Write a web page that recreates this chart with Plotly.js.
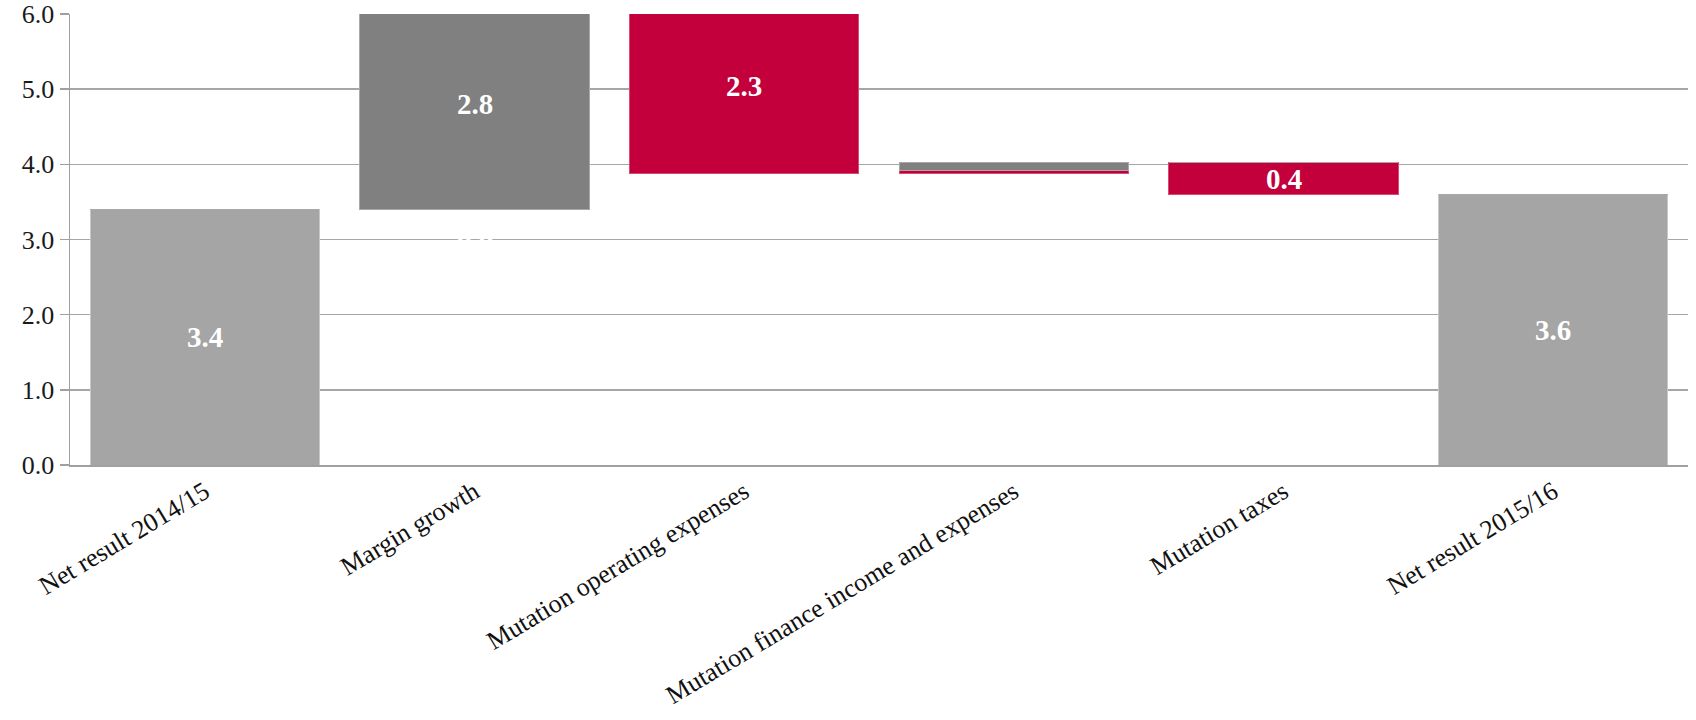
<!DOCTYPE html>
<html>
<head>
<meta charset="utf-8">
<script src="https://cdn.plot.ly/plotly-3.0.1.min.js"></script>
<style>html,body{margin:0;padding:0;background:#fff;}#chart{width:1696px;height:720px;}</style>
</head>
<body>
<div id="chart"></div>
<script>
// ---- data ----
var categories = ["Net result 2014/15", "Margin growth", "Mutation operating expenses",
                  "Mutation finance income and expenses", "Mutation taxes", "Net result 2015/16"];
var baseValues = [0, 3.4, 3.88, 3.88, 3.6, 0];
var totalValues = [3.4, 0, 0, 0, 0, 3.6];
var decreaseValues = [0, 0, 2.32, 0.04, 0.42, 0];
var increaseValues = [0, 2.8, 0, 0.10, 0, 0];
var labelTexts = ["3.4", "2.8", "2.3", "", "0.4", "3.6"];
var ghostLabels = ["", "0.0", "", "", "", ""];
var ghostY = [0, 3.0, 0, 0, 0, 0];
var yTicks = [0, 1, 2, 3, 4, 5, 6];

// ---- traces ----
var common = {type: "bar", x: categories, hoverinfo: "skip", marker: {line: {width: 0}}};
var traces = [
  Object.assign({}, common, {name: "base", y: baseValues, marker: {color: "rgba(0,0,0,0)"}}),
  Object.assign({}, common, {name: "total", y: totalValues, marker: {color: "#A5A5A5", line: {color: "#C8C8C8", width: 1}}}),
  Object.assign({}, common, {name: "decrease", y: decreaseValues, marker: {color: "#C3003C", line: {color: "#D94A73", width: 1}}}),
  Object.assign({}, common, {name: "increase", y: increaseValues, marker: {color: "#808080", line: {color: "#A8A8A8", width: 1}}})
];

// ---- labels (computed from the data) ----
var serif = "Liberation Serif, Times New Roman, serif";
var annotations = [];
for (var i = 0; i < categories.length; i++) {
  var barVal = totalValues[i] + decreaseValues[i] + increaseValues[i];
  if (labelTexts[i]) {
    annotations.push({
      x: categories[i], y: baseValues[i] + barVal / 2, xref: "x", yref: "y",
      text: "<b>" + labelTexts[i] + "</b>", showarrow: false,
      font: {family: serif, size: 29, color: "#FFFFFF"}
    });
  }
  if (ghostLabels[i]) {
    annotations.push({
      x: categories[i], y: ghostY[i], xref: "x", yref: "y",
      text: "<b>" + ghostLabels[i] + "</b>", showarrow: false,
      font: {family: serif, size: 29, color: "#FFFFFF"}
    });
  }
}

var layout = {
  width: 1696, height: 720,
  margin: {l: 70, r: 8, t: 14, b: 255},
  paper_bgcolor: "#FFFFFF", plot_bgcolor: "#FFFFFF",
  barmode: "stack", bargap: 0.15,
  showlegend: false,
  font: {family: serif, size: 26, color: "#1A1A1A"},
  xaxis: {
    type: "category", tickangle: -31, showgrid: false,
    showline: true, linecolor: "#A0A0A0", linewidth: 1.5,
    ticks: "", tickfont: {family: serif, size: 26, color: "#111111"},
    fixedrange: true
  },
  yaxis: {
    range: [0, 6], tickvals: yTicks, tickformat: ".1f",
    showgrid: true, gridcolor: "#A6A6A6", gridwidth: 1.5,
    showline: true, linecolor: "#A0A0A0", linewidth: 1.5,
    ticks: "outside", ticklen: 9, tickcolor: "#A0A0A0", tickwidth: 1.5,
    zeroline: false,
    tickfont: {family: serif, size: 26, color: "#1A1A1A"},
    fixedrange: true
  },
  annotations: annotations
};

Plotly.newPlot("chart", traces, layout, {displayModeBar: false, staticPlot: true});
</script>
</body>
</html>
